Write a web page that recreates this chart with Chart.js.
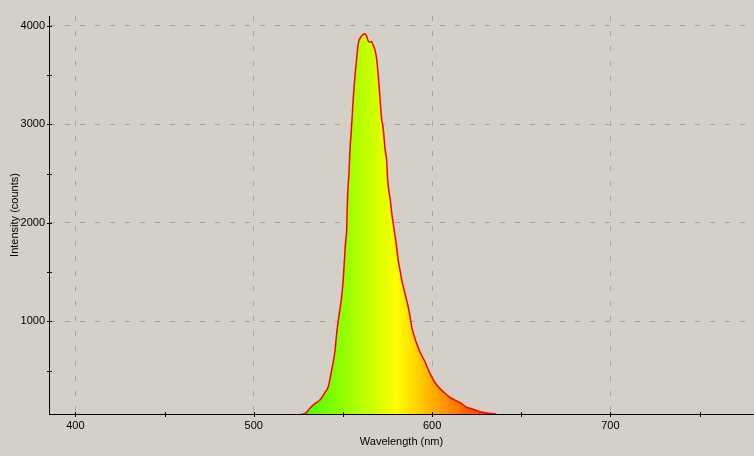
<!DOCTYPE html>
<html>
<head>
<meta charset="utf-8">
<script src="https://cdn.jsdelivr.net/npm/chart.js@4/dist/chart.umd.min.js"></script>
<style>
    html, body { margin: 0; padding: 0; background: #d4d0c8; }
    #wrap { width: 754px; height: 456px; position: relative; }
</style>
</head>
<body>
<div id="wrap"><canvas id="spectrumChart"></canvas></div>
<script>
// Spectrum readings (wavelength in nm, intensity in counts)
const wavelengths = [
    527, 528.7, 531.5, 534, 537.1, 540, 541.8, 543.7, 545.5, 546.5,
    548, 549.3, 550.2, 550.8, 551.5, 552.1, 552.4, 553, 553.4, 553.9,
    554.9, 555.8, 556.8, 557.7, 558.6, 560, 561.4, 562.4, 563.3, 564.2,
    565.2, 566.1, 567, 568, 568.9, 569.8, 570.8, 571.7, 572.6, 573.6,
    574.5, 575.1, 576, 576.6, 577.3, 578.2, 579.2, 580.1, 581, 582,
    583, 584.8, 587, 588.6, 591, 593.2, 596, 598.8, 602.6, 606.3,
    610, 615.7, 619.4, 621.3, 626.9, 631, 634, 636
];
const intensities = [
    60, 64, 118, 160, 202, 280, 337, 506, 692, 878,
    1081, 1250, 1430, 1604, 1807, 1926, 2146, 2399, 2501, 2720,
    2990, 3261, 3497, 3667, 3819, 3886, 3913, 3920, 3896, 3845,
    3835, 3842, 3802, 3751, 3667, 3497, 3261, 3058, 2957, 2754,
    2636, 2433, 2298, 2230, 2111, 1994, 1875, 1756, 1622, 1520,
    1419, 1284, 1115, 945, 793, 692, 590, 473, 354, 286,
    229, 175, 128, 118, 83, 70, 64, 60
];

// axis ticks (labelled ones are the multiples of 100 / 1000)
const xTicks = [400, 450, 500, 550, 600, 650, 700, 750];
const yTicks = [500, 1000, 1500, 2000, 2500, 3000, 3500, 4000];

// fill colour stops along the wavelength axis
const gradWl = [510, 530, 560, 580, 600, 620, 645];
const gradColors = ['#00ff00', '#4aff00', '#b5ff00', '#ffff00', '#ffb000', '#ff6200', '#ff0000'];

const BG = '#d4d0c8';
const FONT = { family: "'Liberation Sans', Arial, sans-serif", size: 11 };

let gradCache = null;
function spectrumFill(context) {
    const chart = context.chart;
    const area = chart.chartArea;
    if (!area) return 'rgba(0,0,0,0)';
    const xs = chart.scales.x;
    const x0 = xs.getPixelForValue(gradWl[0]);
    const x1 = xs.getPixelForValue(gradWl[gradWl.length - 1]);
    const key = x0 + ':' + x1;
    if (gradCache && gradCache.key === key) return gradCache.grad;
    const g = chart.ctx.createLinearGradient(x0, 0, x1, 0);
    gradWl.forEach((wl, i) => {
        g.addColorStop((xs.getPixelForValue(wl) - x0) / (x1 - x0), gradColors[i]);
    });
    gradCache = { key, grad: g };
    return g;
}

// paint the grey backdrop
const bgPlugin = {
    id: 'bg',
    beforeDraw(chart) {
        const c = chart.ctx;
        c.save();
        c.fillStyle = BG;
        c.fillRect(0, 0, chart.width, chart.height);
        c.restore();
    }
};

// tick marks that straddle the axis line
const crossTicks = {
    id: 'crossTicks',
    afterDraw(chart) {
        const c = chart.ctx;
        const { x, y } = chart.scales;
        c.save();
        c.strokeStyle = '#000';
        c.lineWidth = 1;
        c.beginPath();
        x.ticks.forEach(t => {
            const px = Math.round(x.getPixelForValue(t.value)) + 0.5;
            c.moveTo(px, x.top - 2);
            c.lineTo(px, x.top + 3);
        });
        y.ticks.forEach(t => {
            const py = Math.round(y.getPixelForValue(t.value)) + 0.5;
            c.moveTo(y.right - 2, py);
            c.lineTo(y.right + 3, py);
        });
        c.stroke();
        c.restore();
    }
};

const gridColor = (step) => (ctx) => (ctx.tick && ctx.tick.value % step === 0 ? '#a4a4a4' : 'rgba(0,0,0,0)');

new Chart(document.getElementById('spectrumChart'), {
    type: 'line',
    data: {
        datasets: [{
            data: wavelengths.map((w, i) => ({ x: w, y: intensities[i] })),
            borderColor: '#ff0000',
            borderWidth: 1.5,
            backgroundColor: spectrumFill,
            fill: 'start',
            pointRadius: 0,
            cubicInterpolationMode: 'monotone'
        }]
    },
    options: {
        responsive: true,
        maintainAspectRatio: false,
        animation: false,
        layout: { padding: { top: 16, right: 0, left: 0, bottom: 0 } },
        plugins: {
            legend: { display: false },
            tooltip: { enabled: false }
        },
        scales: {
            x: {
                type: 'linear',
                min: 385.2,
                max: 780.5,
                afterFit: (s) => { s.height = 42; },
                afterBuildTicks: (s) => { s.ticks = xTicks.map(v => ({ value: v })); },
                grid: { color: gridColor(100), drawTicks: false, lineWidth: 1 },
                border: { color: '#000', width: 1, dash: [5, 10] },
                ticks: {
                    padding: 5,
                    color: '#000',
                    font: FONT,
                    maxRotation: 0,
                    autoSkip: false,
                    callback: (v) => (v % 100 === 0 ? v : '')
                },
                title: { display: true, text: 'Wavelength (nm)', color: '#000', font: FONT, padding: { top: 0, bottom: 7 } }
            },
            y: {
                min: 60,
                max: 4100,
                afterFit: (s) => { s.width = 49; },
                afterBuildTicks: (s) => { s.ticks = yTicks.map(v => ({ value: v })); },
                grid: { color: gridColor(1000), drawTicks: false, lineWidth: 1 },
                border: { color: '#000', width: 1, dash: [5, 10] },
                ticks: {
                    padding: 4,
                    color: '#000',
                    font: FONT,
                    autoSkip: false,
                    callback: (v) => (v % 1000 === 0 ? v : '')
                },
                title: { display: true, text: 'Intensity (counts)', color: '#000', font: FONT, padding: { top: 8, bottom: 0 } }
            }
        }
    },
    plugins: [bgPlugin, crossTicks]
});
</script>
</body>
</html>
